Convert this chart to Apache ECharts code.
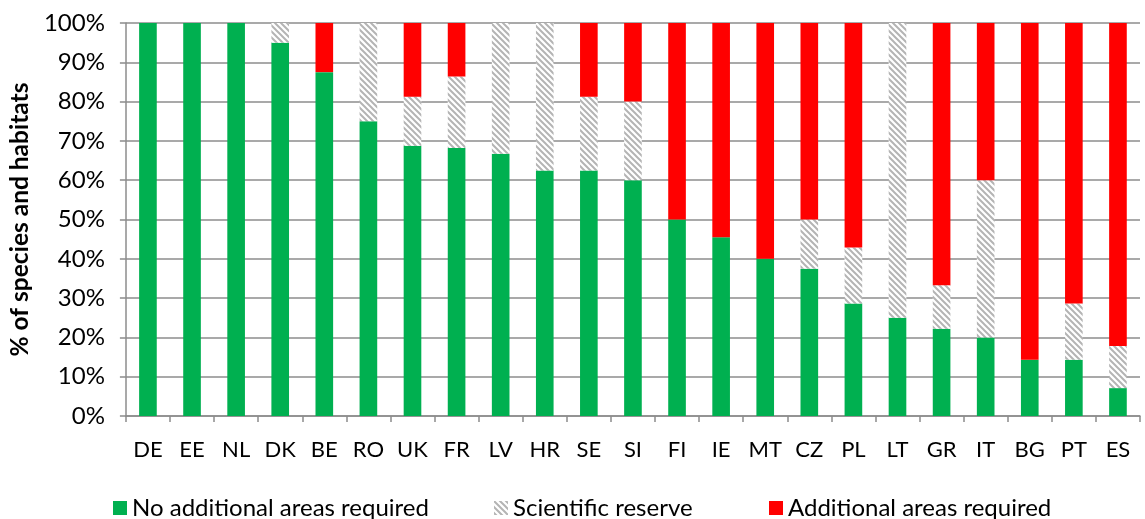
<!DOCTYPE html>
<html><head><meta charset="utf-8">
<script src="https://cdn.jsdelivr.net/npm/echarts@6/dist/echarts.min.js"></script>
<style>html,body{margin:0;padding:0;background:#fff}#c{width:1145px;height:519px}</style>
</head><body><div id="c"></div>
<script>
const categories = ['DE','EE','NL','DK','BE','RO','UK','FR','LV','HR','SE','SI','FI','IE','MT','CZ','PL','LT','GR','IT','BG','PT','ES'];
const noAdditional = [100,100,100,95,87.5,75,68.75,68.2,66.7,62.5,62.5,60,50,45.5,40,37.5,28.6,25,22.2,20,14.3,14.3,7.1];
const scientificReserve = [0,0,0,5,0,25,12.5,18.2,33.3,37.5,18.75,20,0,0,0,12.5,14.3,75,11.1,40,0,14.3,10.7];
const additionalRequired = [0,0,0,0,12.5,0,18.75,13.6,0,0,18.75,20,50,54.5,60,50,57.1,0,66.7,40,85.7,71.4,82.2];
const seriesNames = ['No additional areas required','Scientific reserve','Additional areas required'];

function hatch(){
  const s = 6, c = document.createElement('canvas');
  c.width = s; c.height = s;
  const g = c.getContext('2d');
  g.fillStyle = '#ffffff'; g.fillRect(0,0,s,s);
  g.strokeStyle = '#b4b4b4'; g.lineWidth = 2;
  g.beginPath();
  for (let k=-1;k<=1;k++){ g.moveTo(k*s-1,-1); g.lineTo(k*s+s+1,s+1); }
  g.stroke();
  return c;
}
const font = 'Lato, "Open Sans", sans-serif';
const chart = echarts.init(document.getElementById('c'), null, {renderer:'canvas'});
const mk = (name, data, color) => ({
  name, type:'bar', stack:'t', data, barWidth:'40%',
  itemStyle:{color}, emphasis:{disabled:true}
});
const legendAt = (name, left) => ({
  data:[name], left, bottom:-6, itemWidth:14, itemHeight:14, icon:'rect', itemGap:8,
  textStyle:{fontSize:24,color:'#000',fontFamily:font}
});
chart.setOption({
  animation:false,
  textStyle:{fontFamily:font},
  grid:{left:122,right:5,top:23,bottom:103},
  legend:[legendAt(seriesNames[0],108), legendAt(seriesNames[1],489), legendAt(seriesNames[2],764)],
  xAxis:{
    type:'category', data:categories,
    axisLine:{lineStyle:{color:'#8c8c8c',width:1.5}},
    axisTick:{show:true,length:6,lineStyle:{color:'#8c8c8c',width:1.5}},
    axisLabel:{fontSize:22,color:'#000',margin:23,interval:0,fontFamily:font}
  },
  yAxis:{
    type:'value', min:0, max:100, interval:10,
    name:'% of species and habitats', nameLocation:'middle', nameGap:91,
    nameTextStyle:{fontSize:24.5,fontWeight:'bold',color:'#000',fontFamily:font},
    axisLine:{show:true,lineStyle:{color:'#8c8c8c',width:1.5}},
    axisTick:{show:true,length:6,lineStyle:{color:'#8c8c8c',width:1.5}},
    splitLine:{lineStyle:{color:'#8c8c8c',width:1.5}},
    axisLabel:{formatter:'{value}%',fontSize:24,color:'#000',margin:21,fontFamily:font}
  },
  series:[
    mk(seriesNames[0], noAdditional, '#00b050'),
    mk(seriesNames[1], scientificReserve, {image:hatch(), repeat:'repeat'}),
    mk(seriesNames[2], additionalRequired, '#ff0000')
  ]
});
</script></body></html>
